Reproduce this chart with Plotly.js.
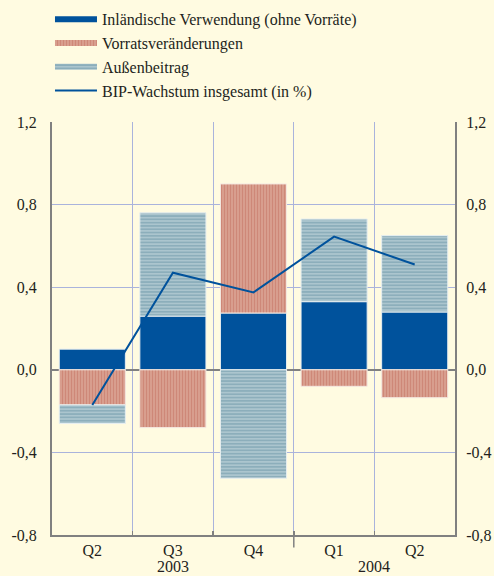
<!DOCTYPE html>
<html><head><meta charset="utf-8">
<script src="https://cdn.plot.ly/plotly-3.0.1.min.js"></script>
<style>body{margin:0;background:#fffbe1}</style>
</head><body><div id="chart" style="width:494px;height:576px"></div>
<script>
const periods = ["Q2 2003","Q3 2003","Q4 2003","Q1 2004","Q2 2004"];
const quarters = ["Q2","Q3","Q4","Q1","Q2"];
const years = ["2003","2004"];
const seriesNames = ["Inländische Verwendung (ohne Vorräte)","Vorratsveränderungen","Außenbeitrag","BIP-Wachstum insgesamt (in %)"];
const inland = [0.10, 0.26, 0.275, 0.33, 0.28];
const vorraete = [-0.17, -0.28, 0.625, -0.08, -0.135];
const aussen = [-0.09, 0.50, -0.525, 0.40, 0.37];
const bip = [-0.17, 0.47, 0.375, 0.645, 0.51];
const yTicks = [-0.8, -0.4, 0, 0.4, 0.8, 1.2];
const yTickText = ["-0,8","-0,4","0,0","0,4","0,8","1,2"];

const fam = '"Liberation Serif", "Times New Roman", Times, serif';
const font = {family: fam, size: 16, color: "#231f20"};
const blue = "#00529c";
const redPat = {shape:"|", fgcolor:"#c26b5b", bgcolor:"#dba595", size:3, solidity:0.5, fillmode:"overlay"};
const bluePat = {shape:"-", fgcolor:"#6e98a8", bgcolor:"#abc5ce", size:3.3, solidity:0.5, fillmode:"overlay"};
const traces = [
  {type:"bar", name:seriesNames[0], legendgroup:"a", showlegend:false, x:periods, y:inland,
   marker:{color:blue, line:{color:"#e8eef0", width:1}}},
  {type:"bar", name:seriesNames[1], legendgroup:"b", showlegend:false, x:periods, y:vorraete,
   marker:{color:"#d9a190", line:{color:"#f4e8e0", width:1}, pattern:redPat}},
  {type:"bar", name:seriesNames[2], legendgroup:"c", showlegend:false, x:periods, y:aussen,
   marker:{color:"#a9c4cd", line:{color:"#e6eef0", width:1}, pattern:bluePat}},
  {type:"scatter", mode:"lines", name:seriesNames[3], x:periods, y:bip, legendrank:4,
   line:{color:blue, width:2}},
  // legend keys (wide rectangles as in the reference)
  {type:"scatter", mode:"none", name:seriesNames[0], legendgroup:"a", legendrank:1, x:[null], y:[null],
   fill:"toself", fillcolor:blue},
  {type:"scatter", mode:"none", name:seriesNames[1], legendgroup:"b", legendrank:2, x:[null], y:[null],
   fill:"toself", fillcolor:"#d9a190", fillpattern:redPat},
  {type:"scatter", mode:"none", name:seriesNames[2], legendgroup:"c", legendrank:3, x:[null], y:[null],
   fill:"toself", fillcolor:"#a9c4cd", fillpattern:bluePat},
  {type:"scatter", mode:"lines", x:periods, y:bip, yaxis:"y2", showlegend:false, hoverinfo:"skip",
   line:{width:0}, opacity:0}
];
const layout = {
  width:494, height:576,
  paper_bgcolor:"#fffbe1", plot_bgcolor:"#fffbe1",
  font: font,
  barmode:"relative", bargap:0.18,
  margin:{l:52, r:39, t:122, b:41, autoexpand:false},
  showlegend:true,
  legend:{x:-0.005, xanchor:"left", y:1.29, yanchor:"top", bgcolor:"rgba(0,0,0,0)",
          traceorder:"normal", font:font, tracegroupgap:0, itemwidth:42},
  xaxis:{type:"category", categoryorder:"array", categoryarray:periods,
         tickvals:periods, ticktext:quarters,
         showgrid:true, gridcolor:"#aab3dc", gridwidth:1,
         showline:true, linecolor:"#808080", linewidth:2,
         ticks:"inside", ticklen:4, tickcolor:"#808080", tickwidth:1.5, tickson:"boundaries",
         tickfont:font},
  yaxis:{range:[-0.8,1.2], tickvals:yTicks, ticktext:yTickText, showgrid:true,
         gridcolor:"#aab3dc", gridwidth:1, zeroline:true, zerolinecolor:"#808080", zerolinewidth:2,
         showline:true, linecolor:"#808080", linewidth:2, ticks:"", tickfont:font, ticklabelstandoff:10},
  yaxis2:{range:[-0.8,1.2], tickvals:yTicks, ticktext:yTickText, overlaying:"y", side:"right",
          showgrid:false, zeroline:false, showline:true, linecolor:"#808080", linewidth:2,
          ticks:"", tickfont:font, ticklabelstandoff:6},
  annotations:[
    {text:years[0], x:1, xref:"x", y:-0.052, yref:"paper", yanchor:"top", showarrow:false, font:font},
    {text:years[1], x:3.5, xref:"x", y:-0.052, yref:"paper", yanchor:"top", showarrow:false, font:font}
  ],
  shapes:[
    {type:"line", xref:"x", x0:2.5, x1:2.5, yref:"paper", y0:0, y1:-0.03,
     line:{color:"#808080", width:1.5}}
  ]
};
Plotly.newPlot("chart", traces, layout, {displayModeBar:false, staticPlot:true});
</script></body></html>
